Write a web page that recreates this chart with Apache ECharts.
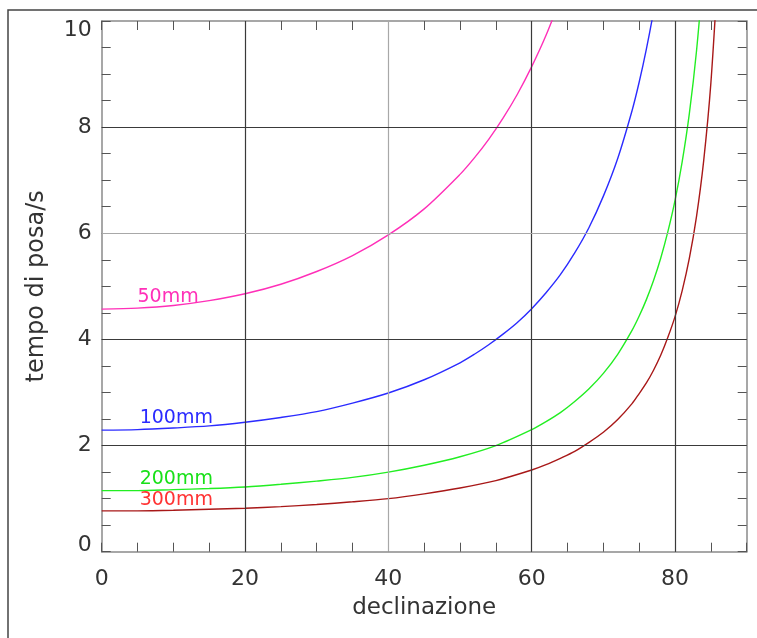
<!DOCTYPE html>
<html>
<head>
<meta charset="utf-8">
<script src="https://cdn.jsdelivr.net/npm/echarts@6/dist/echarts.min.js"></script>
<style>
html,body{margin:0;padding:0;background:#fff;}
#chart{width:757px;height:638px;}
</style>
</head>
<body>
<div id="chart"></div>
<script>
// declination (degrees) values for each curve
const dec50  = [0, 5, 10, 15, 20, 25, 30, 35, 40, 45, 50, 52, 54, 56, 58, 60, 62, 64];
const t50    = [4.57, 4.59, 4.64, 4.73, 4.86, 5.04, 5.28, 5.58, 5.97, 6.46, 7.11, 7.42, 7.77, 8.17, 8.62, 9.14, 9.73, 10.42];

const dec100 = [0, 5, 10, 15, 20, 25, 30, 35, 40, 45, 50, 52, 54, 56, 58, 60, 62, 64, 66, 68, 70, 72, 74, 75, 76, 77, 78];
const t100   = [2.29, 2.30, 2.33, 2.37, 2.44, 2.53, 2.64, 2.80, 2.99, 3.24, 3.56, 3.72, 3.90, 4.10, 4.32, 4.58, 4.88, 5.22, 5.63, 6.11, 6.70, 7.41, 8.31, 8.85, 9.47, 10.18, 11.01];

const dec200 = [0, 5, 10, 15, 20, 25, 30, 35, 40, 45, 50, 55, 60, 62, 64, 66, 68, 70, 72, 74, 75, 76, 77, 78, 79, 80, 81, 82, 83, 84];
const t200   = [1.15, 1.15, 1.17, 1.19, 1.22, 1.27, 1.33, 1.40, 1.50, 1.63, 1.79, 2.00, 2.30, 2.45, 2.62, 2.83, 3.07, 3.36, 3.72, 4.17, 4.44, 4.75, 5.11, 5.53, 6.03, 6.62, 7.35, 8.26, 9.44, 11.00];

const dec300 = [0, 5, 10, 15, 20, 25, 30, 35, 40, 45, 50, 55, 60, 62, 64, 66, 68, 70, 72, 74, 75, 76, 77, 78, 79, 80, 81, 82, 83, 84, 85, 86];
const t300   = [0.77, 0.77, 0.78, 0.80, 0.82, 0.85, 0.89, 0.94, 1.00, 1.09, 1.20, 1.34, 1.54, 1.64, 1.76, 1.89, 2.06, 2.25, 2.49, 2.79, 2.98, 3.18, 3.42, 3.70, 4.04, 4.43, 4.92, 5.53, 6.32, 7.37, 8.83, 11.00];

const seriesNames = ['50mm', '100mm', '200mm', '300mm'];
// label anchor points [declination, time] for the curve names
const labelAt = [[5.0, 4.80], [5.3, 2.52], [5.3, 1.36], [5.3, 0.97]];

const xGridDark = [20, 60, 80];
const xGridLight = [40];
const yGridDark = [2, 4, 8];
const yGridLight = [6];

const FONT = 'DejaVu Sans';
const lineColors = ['#ff2fb8', '#2b2bff', '#22ee22', '#a81818'];
const labelColors = ['#ff2fb8', '#2b2bff', '#18e018', '#ff3333'];

function zip(xs, ys) { return xs.map((x, i) => [x, ys[i]]); }
const allData = [zip(dec50, t50), zip(dec100, t100), zip(dec200, t200), zip(dec300, t300)];

const chart = echarts.init(document.getElementById('chart'), null, {renderer: 'canvas'});

const commonTick = {show: true, inside: true, length: 9, lineStyle: {color: '#555', width: 1}};
const axisLineStyle = {show: true, onZero: false, lineStyle: {color: '#8a8a8a', width: 1.5}};

const series = allData.map((d, i) => ({
  name: seriesNames[i],
  type: 'line',
  data: d,
  smooth: 0.3,
  showSymbol: false,
  symbol: 'none',
  clip: true,
  lineStyle: {color: lineColors[i], width: 1.4},
  z: 3,
  markPoint: {
    symbol: 'circle',
    symbolSize: 0,
    silent: true,
    animation: false,
    data: [{
      coord: labelAt[i],
      label: {
        show: true,
        formatter: seriesNames[i],
        position: 'right',
        distance: 0,
        color: labelColors[i],
        fontFamily: FONT,
        fontSize: 19
      }
    }]
  }
}));

series.push({
  type: 'line',
  data: [],
  silent: true,
  z: 1,
  markLine: {
    symbol: 'none',
    silent: true,
    animation: false,
    label: {show: false},
    data: [
      ...xGridDark.map(v => ({xAxis: v, lineStyle: {color: '#3a3a3a', width: 1.2, type: 'solid'}})),
      ...xGridLight.map(v => ({xAxis: v, lineStyle: {color: '#a8a8a8', width: 1.2, type: 'solid'}})),
      ...yGridDark.map(v => ({yAxis: v, lineStyle: {color: '#3a3a3a', width: 1.2, type: 'solid'}})),
      ...yGridLight.map(v => ({yAxis: v, lineStyle: {color: '#a8a8a8', width: 1.2, type: 'solid'}}))
    ]
  }
});

const option = {
  animation: false,
  backgroundColor: '#fff',
  grid: {left: 101.7, top: 21, right: 10.3, bottom: 86.3, containLabel: false},
  xAxis: [{
    type: 'value', min: 0, max: 90, interval: 5, position: 'bottom',
    axisLine: axisLineStyle, axisTick: commonTick, splitLine: {show: false},
    axisLabel: {
      formatter: v => (v % 20 === 0 ? String(v) : ''),
      fontFamily: FONT, fontSize: 22, color: '#333', margin: 17
    },
    name: 'declinazione', nameLocation: 'middle', nameGap: 45,
    nameTextStyle: {fontFamily: FONT, fontSize: 23, color: '#333'}
  }, {
    type: 'value', min: 0, max: 90, interval: 5, position: 'top',
    axisLine: axisLineStyle, axisTick: commonTick, splitLine: {show: false},
    axisLabel: {show: false}
  }],
  yAxis: [{
    type: 'value', min: 0, max: 10, interval: 0.5, position: 'left',
    axisLine: axisLineStyle, axisTick: commonTick, splitLine: {show: false},
    axisLabel: {
      formatter: v => {
        if (v === 10) return '{t|10}';
        if (v === 0) return '{b|0}';
        return (v % 2 === 0) ? String(v) : '';
      },
      rich: {
        t: {fontFamily: FONT, fontSize: 22, color: '#333', padding: [18, 0, 0, 0]},
        b: {fontFamily: FONT, fontSize: 22, color: '#333', padding: [0, 0, 12, 0]}
      },
      fontFamily: FONT, fontSize: 22, color: '#333', margin: 10
    },
    name: 'tempo di posa/s', nameLocation: 'middle', nameGap: 53,
    nameTextStyle: {fontFamily: FONT, fontSize: 24, color: '#333'}
  }, {
    type: 'value', min: 0, max: 10, interval: 0.5, position: 'right',
    axisLine: axisLineStyle, axisTick: commonTick, splitLine: {show: false},
    axisLabel: {show: false}
  }],
  graphic: [{
    type: 'polyline',
    silent: true,
    shape: {points: [[8, 640], [8, 10], [760, 10]]},
    style: {stroke: '#444', lineWidth: 1.5, fill: null}
  }],
  series: series
};

chart.setOption(option);
</script>
</body>
</html>
